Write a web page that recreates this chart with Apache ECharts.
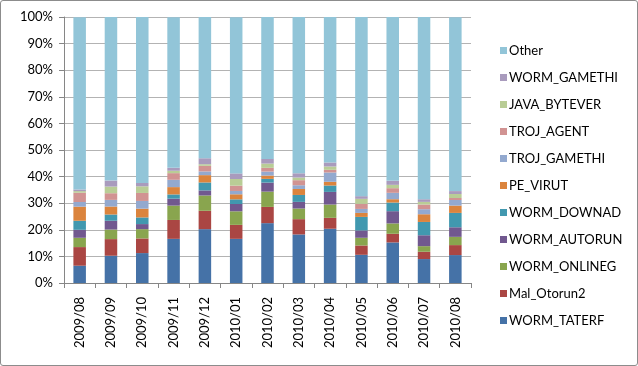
<!DOCTYPE html>
<html><head><meta charset="utf-8">
<script src="https://cdn.jsdelivr.net/npm/echarts@6/dist/echarts.min.js"></script>
<style>html,body{margin:0;padding:0;background:#fff}#c{width:638px;height:366px;box-sizing:border-box;border:1px solid #8c8c8c;border-radius:3px}</style>
</head><body><div id="c"></div>
<script>
const categories = ['2009/08','2009/09','2009/10','2009/11','2009/12','2010/01','2010/02','2010/03','2010/04','2010/05','2010/06','2010/07','2010/08'];
const WORM_TATERF  = [6.5, 10.25, 11.25, 16.6, 20.25, 16.6, 22.5, 18.25, 20.4, 10.6, 15.25, 9, 10.5];
const Mal_Otorun2  = [7, 6.25, 5.5, 7.1, 6.9, 5.25, 6.1, 5.75, 4.1, 3.5, 3.25, 2.75, 3.75];
const WORM_ONLINEG = [3.5, 3.6, 3.5, 5.4, 5.75, 5.1, 5.75, 4, 5, 2.9, 3.9, 2.1, 3.1];
const WORM_AUTORUN = [3, 3.3, 1.9, 2.6, 1.9, 2.75, 3.4, 2.5, 4.75, 2.75, 4.6, 4.1, 3.6];
const WORM_DOWNAD  = [3.4, 2.35, 2.5, 1.6, 3, 1.75, 1.4, 2.6, 2.4, 5.1, 3.25, 5, 5.4];
const PE_VIRUT     = [5.3, 3, 3.3, 2.75, 2.75, 1.9, 1.25, 2.25, 1.4, 1.5, 1.25, 2.9, 2.75];
const TROJ_GAMETHI = [1.75, 2.5, 2.9, 2.75, 1.4, 1.25, 1.5, 1.4, 3.5, 1.5, 2.4, 1.9, 2.1];
const TROJ_AGENT   = [3.5, 2.5, 3, 2.5, 2.1, 2, 1.4, 1.9, 1, 1.9, 1.75, 1.75, 0.75];
const JAVA_BYTEVER = [0.6, 2.5, 2.5, 0.9, 0.6, 2.5, 1.6, 1, 1.25, 1.9, 1.25, 1, 1.5];
const WORM_GAMETHI = [0.6, 2.25, 1.25, 1.1, 2.25, 2.1, 1.75, 1.6, 1.5, 1, 1.5, 1, 1.1];
const Other        = [64.75, 61.5, 62.5, 56.6, 53.1, 58.75, 53.4, 58.75, 54.75, 67.4, 61.6, 68.5, 65.4];
const seriesNames = ['WORM_TATERF','Mal_Otorun2','WORM_ONLINEG','WORM_AUTORUN','WORM_DOWNAD','PE_VIRUT','TROJ_GAMETHI','TROJ_AGENT','JAVA_BYTEVER','WORM_GAMETHI','Other'];
const seriesValues = [WORM_TATERF, Mal_Otorun2, WORM_ONLINEG, WORM_AUTORUN, WORM_DOWNAD, PE_VIRUT, TROJ_GAMETHI, TROJ_AGENT, JAVA_BYTEVER, WORM_GAMETHI, Other];
const colors = ['#4572A7','#AA4643','#89A54E','#71588F','#4198AF','#DB843D','#93A9CF','#D19392','#B9CD96','#A99BBD','#92C5D8'];

const chart = echarts.init(document.getElementById('c'));
const font = 'Lato, "Liberation Sans", sans-serif';
chart.setOption({
  animation: false,
  textStyle: {fontFamily: font},
  grid: {left: 63, right: 166, top: 16, bottom: 82, containLabel: false},
  legend: {
    orient: 'vertical', left: 494, top: 38,
    itemWidth: 7, itemHeight: 7, itemGap: 14,
    icon: 'rect',
    textStyle: {fontFamily: font, fontSize: 13, color: '#000', padding: [0,0,0,-3]},
    data: seriesNames.slice().reverse()
  },
  xAxis: {
    type: 'category', data: categories,
    axisLine: {lineStyle: {color: '#868686'}},
    axisTick: {show: true, alignWithLabel: false, length: 5, lineStyle: {color: '#868686'}},
    axisLabel: {rotate: 90, fontSize: 13, color: '#000', fontFamily: font, margin: 14}
  },
  yAxis: {
    type: 'value', min: 0, max: 100, interval: 10,
    axisLine: {show: true, lineStyle: {color: '#868686'}},
    axisTick: {show: true, inside: false, length: 5, lineStyle: {color: '#868686'}},
    splitLine: {lineStyle: {color: '#b3b3b3'}},
    axisLabel: {formatter: '{value}%', fontSize: 13, color: '#000', fontFamily: font, margin: 11}
  },
  series: seriesNames.map((n, i) => ({
    name: n, type: 'bar', stack: 'all', data: seriesValues[i],
    barWidth: '40%', itemStyle: {color: colors[i]}
  }))
});
</script></body></html>
